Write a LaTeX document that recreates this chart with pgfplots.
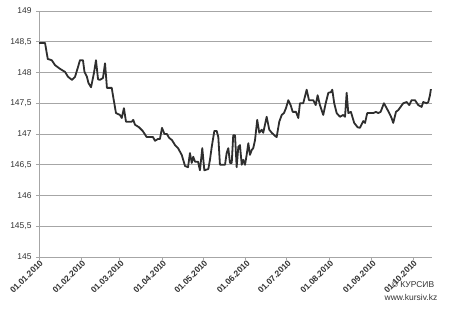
\documentclass[border=0pt]{standalone}
\usepackage{pgfplots}
\pgfplotsset{compat=1.18}
\usepackage{fontspec}
\setmainfont{Liberation Sans}
\definecolor{gridc}{HTML}{A6A6A6}
\definecolor{linec}{HTML}{2E2E2E}
\definecolor{txtc}{HTML}{333333}
\begin{document}
\begin{tikzpicture}
\begin{axis}[
  name=ax,
  scale only axis,
  width=393bp, height=246bp,
  xmin=0, xmax=286.9,
  ymin=145, ymax=149,
  ytick={145,145.5,...,149},
  xtick={0,31,59,90,120,151,181,212,243,273},
  xticklabels={01.01.2010,01.02.2010,01.03.2010,01.04.2010,01.05.2010,01.06.2010,01.07.2010,01.08.2010,01.09.2010,01.10.2010},
  x tick label style={rotate=45, anchor=east, font=\fontsize{8.5}{9}\selectfont\bfseries, text=txtc, xshift=4bp, yshift=-3bp},
  y tick label style={font=\fontsize{8.5}{9}\selectfont, text=txtc, xshift=-1bp},
  /pgf/number format/use comma,
  /pgf/number format/assume math mode=true,
  ymajorgrids,
  grid style={gridc, line width=0.9bp},
  axis x line*=bottom,
  axis y line*=left,
  axis line style={gridc, line width=0.9bp},
  tick style={gridc, line width=0.9bp},
  tick align=outside,
  major tick length=3bp,
  xtick pos=bottom, ytick pos=left,
  clip=false,
]
\addplot[linec, line width=1.8bp, line join=round, mark=none] coordinates {
(0,148.48) (4.4,148.48) (6.4,148.22) (9.3,148.20) (11.7,148.12) (15.3,148.06)
(19.0,148.01) (21.2,147.93) (24.1,147.88) (26.3,147.93) (28.5,148.09) (29.9,148.20)
(32.1,148.20) (33.2,148.01) (35.0,147.93) (36.1,147.83) (38.0,147.76) (40.1,147.99)
(41.6,148.20) (43.1,147.89) (44.5,147.88) (46.7,147.91) (48.2,148.15) (49.6,147.75)
(53.1,147.75) (54.2,147.60) (56.2,147.34) (59.1,147.31) (60.4,147.26) (62.0,147.42)
(63.5,147.20) (67.7,147.20) (68.8,147.23) (70.1,147.15) (73.0,147.11) (75.7,147.05)
(78.6,146.95) (83.2,146.95) (84.7,146.89) (86.9,146.92) (88.3,146.92) (89.8,147.10)
(91.6,147.00) (93.4,147.00) (94.9,146.94) (97.1,146.90) (99.3,146.82) (101.5,146.77)
(104.2,146.66) (106.6,146.48) (108.8,146.46) (110.2,146.69) (111.5,146.53) (112.6,146.63)
(113.9,146.55) (116.1,146.55) (117.5,146.41) (119.2,146.77) (120.7,146.41) (123.6,146.43)
(124.8,146.58) (126.1,146.79) (128.0,147.05) (129.7,147.05) (130.9,146.95) (132.1,146.50)
(133.8,146.50) (135.8,146.50) (137.0,146.69) (138.2,146.77) (139.4,146.53) (140.7,146.53)
(141.8,146.98) (143.1,146.98) (144.3,146.46) (145.5,146.79) (146.7,146.82) (148.0,146.50)
(149.1,146.58) (150.4,146.50) (151.6,146.66) (152.8,146.85) (154.0,146.66) (155.3,146.74)
(156.4,146.77) (157.7,146.90) (159.3,147.23) (160.8,147.02) (162.6,147.07) (163.7,147.02)
(166.2,147.28) (168.1,147.07) (169.9,147.02) (172.3,146.97) (173.5,146.95) (175.4,147.20)
(177.2,147.31) (178.8,147.34) (180.3,147.42) (182.0,147.55) (183.7,147.47) (185.2,147.36)
(187.6,147.36) (189.3,147.26) (190.5,147.50) (192.9,147.50) (195.4,147.72) (197.1,147.55)
(200.2,147.55) (202.0,147.47) (203.4,147.63) (205.1,147.47) (207.5,147.31) (209.3,147.50)
(211.2,147.67) (213.1,147.68) (214.1,147.72) (215.5,147.50) (217.3,147.34) (219.7,147.28)
(222.1,147.31) (223.4,147.28) (224.6,147.67) (225.8,147.34) (227.7,147.36) (230.1,147.18)
(232.6,147.11) (234.3,147.10) (236.7,147.21) (238.0,147.18) (239.6,147.34) (241.6,147.34)
(244.0,147.34) (246.0,147.36) (247.7,147.34) (249.4,147.36) (251.8,147.50) (253.8,147.42)
(255.7,147.34) (257.4,147.26) (258.6,147.18) (260.6,147.36) (262.3,147.39) (265.9,147.50)
(268.4,147.52) (270.3,147.47) (272.0,147.55) (274.5,147.55) (276.9,147.47) (279.3,147.44)
(280.5,147.52) (283.0,147.50) (284.2,147.52) (285.4,147.63) (286.1,147.73)
};
\end{axis}
\node[font=\fontsize{8.5}{9}\selectfont, text=txtc] at ([shift={(-19bp,-28bp)}]ax.south east) {© КУРСИВ};
\node[font=\fontsize{8.5}{9}\selectfont, text=txtc] at ([shift={(-21bp,-40bp)}]ax.south east) {www.kursiv.kz};
\pgfresetboundingbox
\path ([shift={(-39bp,-57bp)}]ax.south west) rectangle ([shift={(18bp,11bp)}]ax.north east);
\end{tikzpicture}
\end{document}
